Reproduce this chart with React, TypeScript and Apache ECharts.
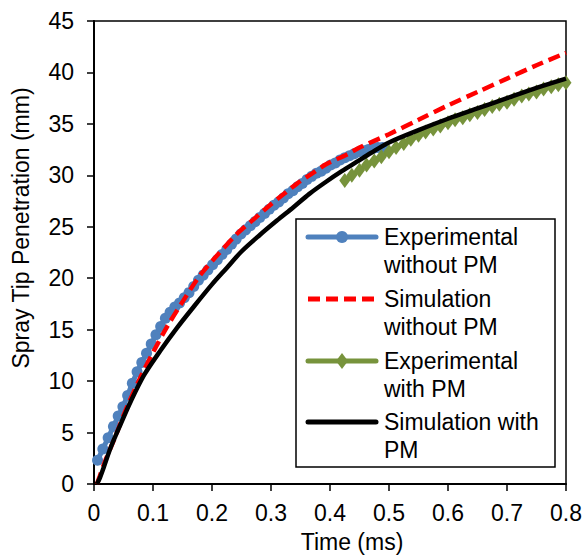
import React, { useEffect, useRef } from "react";
import * as echarts from "echarts";

const FONT = "'Liberation Sans', Arial, Helvetica, sans-serif";

// Experimental without PM (blue circles)
const expNoPmTime = [
  0.006, 0.015, 0.024, 0.033, 0.041, 0.049, 0.057, 0.065, 0.073, 0.081,
  0.089, 0.097, 0.105, 0.113, 0.121, 0.129, 0.137, 0.145, 0.153, 0.161,
  0.169, 0.177, 0.185, 0.193, 0.201, 0.209, 0.217, 0.225, 0.233, 0.241,
  0.249, 0.257, 0.265, 0.273, 0.281, 0.289, 0.297, 0.305, 0.313, 0.321,
  0.329, 0.337, 0.345, 0.353, 0.361, 0.369, 0.377, 0.385, 0.393, 0.401,
  0.409, 0.417, 0.425, 0.433, 0.441, 0.449, 0.457, 0.465, 0.473, 0.481,
  0.489,
];
const expNoPmValue = [
  2.3, 3.4, 4.5, 5.6, 6.6, 7.5, 8.6, 9.8, 10.9, 11.8,
  12.7, 13.6, 14.5, 15.3, 16.1, 16.7, 17.2, 17.6, 18.1, 18.6,
  19.2, 19.8, 20.3, 20.8, 21.3, 21.8, 22.3, 22.8, 23.3, 23.8,
  24.3, 24.7, 25.1, 25.5, 25.9, 26.3, 26.7, 27.1, 27.4, 27.8,
  28.2, 28.5, 28.9, 29.2, 29.6, 29.9, 30.2, 30.4, 30.7, 31.0,
  31.2, 31.5, 31.7, 31.9, 32.1, 32.3, 32.4, 32.5, 32.6, 32.7,
  32.7,
];

// Simulation without PM (red dashed)
const simNoPmTime = [0.005, 0.01, 0.02, 0.034, 0.056, 0.079, 0.102, 0.124, 0.15, 0.18, 0.21, 0.242, 0.27, 0.298, 0.322, 0.344, 0.37, 0.394, 0.428, 0.45, 0.5, 0.55, 0.6, 0.65, 0.7, 0.75, 0.8];
const simNoPmValue = [0, 0.8, 2.4, 4.3, 7.5, 10.4, 13.0, 15.3, 17.7, 20.3, 22.3, 24.3, 25.7, 27.1, 28.2, 29.2, 30.2, 31.1, 32.0, 32.7, 34.0, 35.4, 36.8, 38.1, 39.4, 40.7, 41.9];

// Experimental with PM (green diamonds)
const expPmTime = [
  0.425, 0.437, 0.45, 0.462, 0.475, 0.487, 0.5, 0.512, 0.525, 0.537,
  0.55, 0.562, 0.575, 0.587, 0.6, 0.612, 0.625, 0.637, 0.65, 0.662,
  0.675, 0.687, 0.7, 0.712, 0.725, 0.737, 0.75, 0.762, 0.775, 0.787,
  0.8,
];
const expPmValue = [
  29.5, 30.0, 30.5, 31.0, 31.4, 31.8, 32.3, 32.7, 33.1, 33.5,
  33.9, 34.2, 34.5, 34.8, 35.1, 35.4, 35.6, 35.9, 36.1, 36.4,
  36.7, 36.9, 37.1, 37.4, 37.7, 37.9, 38.1, 38.4, 38.6, 38.8,
  39.0,
];

// Simulation with PM (black solid)
const simPmTime = [0.005, 0.01, 0.017, 0.028, 0.045, 0.062, 0.085, 0.113, 0.141, 0.17, 0.2, 0.225, 0.25, 0.281, 0.31, 0.338, 0.365, 0.394, 0.42, 0.445, 0.47, 0.5, 0.55, 0.6, 0.65, 0.7, 0.75, 0.8];
const simPmValue = [0, 0.6, 1.7, 3.5, 5.8, 8.0, 10.6, 13.0, 15.2, 17.3, 19.4, 21.0, 22.6, 24.2, 25.6, 26.9, 28.2, 29.4, 30.4, 31.3, 32.2, 33.2, 34.4, 35.5, 36.5, 37.5, 38.5, 39.4];

const seriesNames = [
  "Experimental\nwithout PM",
  "Simulation\nwithout PM",
  "Experimental\nwith PM",
  "Simulation with\nPM",
];
const seriesColors = ["#4F81BD", "#FF0000", "#77933C", "#000000"];

const xTickLabels = ["0", "0.1", "0.2", "0.3", "0.4", "0.5", "0.6", "0.7", "0.8"];
const xTitle = "Time (ms)";
const yTitle = "Spray Tip Penetration (mm)";

const zip = (a: number[], b: number[]) => a.map((t, i) => [t, b[i]]);

export default function App() {
  const ref = useRef<HTMLDivElement>(null);

  useEffect(() => {
    if (!ref.current) return;
    const chart = echarts.init(ref.current, null, { renderer: "svg" });

    const legendX = 296;
    const legendY = 219;
    const rowYs = [237, 299, 361, 422];
    const lineSpacing = 27.5;
    const legendEls: any[] = [
      {
        type: "rect",
        shape: { x: legendX, y: legendY, width: 259, height: 248 },
        style: { fill: "#fff", stroke: "#000", lineWidth: 1.5 },
      },
    ];
    seriesNames.forEach((name, i) => {
      const y = rowYs[i];
      legendEls.push({
        type: "line",
        shape: { x1: 308, y1: y, x2: 376, y2: y },
        style: {
          stroke: seriesColors[i],
          lineWidth: 5,
          lineDash: i === 1 ? [12, 6] : null,
          lineCap: i === 1 ? "butt" : "round",
        },
      });
      if (i === 0) {
        legendEls.push({
          type: "circle",
          shape: { cx: 342, cy: y, r: 6 },
          style: { fill: seriesColors[i] },
        });
      }
      if (i === 2) {
        legendEls.push({
          type: "polygon",
          shape: { points: [[342, y - 8], [348, y], [342, y + 8], [336, y]] },
          style: { fill: seriesColors[i] },
        });
      }
      name.split("\n").forEach((ln, j) => {
        legendEls.push({
          type: "text",
          x: 384,
          y: y + j * lineSpacing,
          style: {
            text: ln,
            fill: "#000",
            font: `23px ${FONT}`,
            textAlign: "left",
            textVerticalAlign: "middle",
          },
        });
      });
    });

    const option: any = {
      animation: false,
      backgroundColor: "#fff",
      grid: {
        left: 94,
        top: 21,
        right: 19,
        bottom: 72,
        show: true,
        borderColor: "#000",
        borderWidth: 1.5,
        containLabel: false,
      },
      xAxis: {
        type: "value",
        min: 0,
        max: 0.8,
        interval: 0.1,
        axisLine: { show: true, onZero: false, lineStyle: { color: "#000", width: 2 } },
        axisTick: { show: true, inside: false, length: 7, lineStyle: { color: "#000", width: 1.5 } },
        splitLine: { show: false },
        axisLabel: {
          color: "#000",
          fontSize: 23,
          fontFamily: FONT,
          margin: 17,
          formatter: (v: number) => xTickLabels[Math.round(v * 10)] ?? "",
        },
      },
      yAxis: {
        type: "value",
        min: 0,
        max: 45,
        interval: 5,
        axisLine: { show: true, onZero: false, lineStyle: { color: "#000", width: 2 } },
        axisTick: { show: true, inside: false, length: 7, lineStyle: { color: "#000", width: 1.5 } },
        splitLine: { show: false },
        axisLabel: { color: "#000", fontSize: 23, fontFamily: FONT, margin: 20 },
      },
      series: [
        {
          name: seriesNames[0],
          type: "line",
          data: zip(expNoPmTime, expNoPmValue),
          symbol: "circle",
          symbolSize: 11,
          showSymbol: true,
          itemStyle: { color: seriesColors[0] },
          lineStyle: { color: seriesColors[0], width: 5 },
          z: 2,
        },
        {
          name: seriesNames[2],
          type: "line",
          data: zip(expPmTime, expPmValue),
          symbol: "diamond",
          symbolSize: [11, 15],
          showSymbol: true,
          itemStyle: { color: seriesColors[2] },
          lineStyle: { color: seriesColors[2], width: 5 },
          z: 2,
        },
        {
          name: seriesNames[1],
          type: "line",
          data: zip(simNoPmTime, simNoPmValue),
          symbol: "none",
          smooth: 0.3,
          lineStyle: { color: seriesColors[1], width: 4.5, type: [12, 6] },
          z: 3,
        },
        {
          name: seriesNames[3],
          type: "line",
          data: zip(simPmTime, simPmValue),
          symbol: "none",
          smooth: 0.3,
          lineStyle: { color: seriesColors[3], width: 4.5 },
          z: 4,
        },
      ],
      graphic: [
        ...legendEls.map((e) => ({ ...e, z: 100 })),
        {
          type: "text",
          x: 352,
          y: 542,
          z: 100,
          style: {
            text: xTitle,
            fill: "#000",
            font: `23px ${FONT}`,
            textAlign: "center",
            textVerticalAlign: "middle",
          },
        },
        {
          type: "text",
          x: 21,
          y: 228,
          rotation: Math.PI / 2,
          z: 100,
          style: {
            text: yTitle,
            fill: "#000",
            font: `23px ${FONT}`,
            textAlign: "center",
            textVerticalAlign: "middle",
          },
        },
      ],
    };

    chart.setOption(option);
    return () => chart.dispose();
  }, []);

  return (
    <div
      ref={ref}
      style={{ position: "absolute", left: 0, top: 0, width: 585, height: 556 }}
    />
  );
}
